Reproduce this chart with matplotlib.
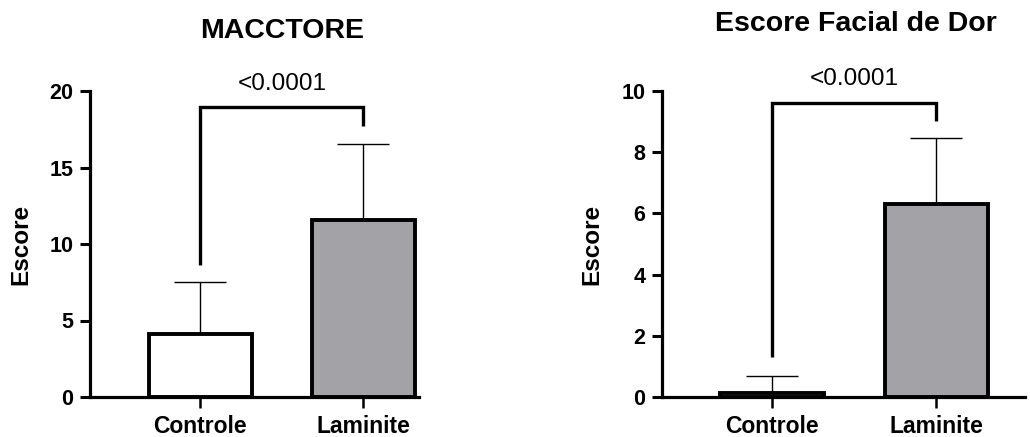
import matplotlib
matplotlib.use("Agg")
import matplotlib.pyplot as plt

plt.rcParams['font.family'] = ['Liberation Sans', 'DejaVu Sans']

groups = ["Controle", "Laminite"]

maccore_mean = [4.1, 11.6]
maccore_sd = [3.4, 4.95]

facial_mean = [0.13, 6.3]
facial_sd = [0.56, 2.16]

p_label = "<0.0001"

bar_fill = ["white", "#a3a2a7"]

fig = plt.figure(figsize=(10.3, 4.37), dpi=100)

ax1 = fig.add_axes([90 / 1030, 40 / 437, 329 / 1030, 306 / 437])
ax2 = fig.add_axes([662 / 1030, 40 / 437, 363 / 1030, 306 / 437])


def draw_panel(ax, means, sds, xlim, ylim, yticks, bracket, text_y):
    x = list(range(len(groups)))
    ax.errorbar(x, means, yerr=[[0] * len(sds), sds], fmt='none',
                ecolor='black', elinewidth=1.0, capsize=19, capthick=1.0,
                zorder=1)
    ax.bar(x, means, width=0.63, color=bar_fill, edgecolor='black',
           linewidth=2.8, zorder=2)
    ax.set_xlim(*xlim)
    ax.set_ylim(*ylim)
    ax.set_yticks(yticks)
    ax.set_xticks(x)
    ax.set_xticklabels(groups)
    for s in ("top", "right"):
        ax.spines[s].set_visible(False)
    for s in ("left", "bottom"):
        ax.spines[s].set_linewidth(2.3)
    ax.tick_params(axis='y', direction='out', length=7, width=2.2,
                   labelsize=15.5, pad=5)
    ax.tick_params(axis='x', direction='out', length=8, width=1.8,
                   labelsize=16.5, pad=5)
    for lab in ax.get_xticklabels() + ax.get_yticklabels():
        lab.set_fontweight('bold')
    ax.set_ylabel("Escore", fontsize=17.5, fontweight='bold')

    top, left_end, right_end = bracket
    ax.plot([0, 0, 1, 1], [left_end, top, top, right_end], color='black',
            linewidth=2.4, solid_joinstyle='miter', solid_capstyle='butt',
            clip_on=False, zorder=3)
    ax.text(0.5, text_y, p_label, ha='center', va='center', fontsize=17.5,
            clip_on=False)


draw_panel(ax1, maccore_mean, maccore_sd, (-0.675, 1.34), (0, 20),
           [0, 5, 10, 15, 20], (18.95, 8.6, 17.7), 20.45)
draw_panel(ax2, facial_mean, facial_sd, (-0.67, 1.54), (0, 10),
           [0, 2, 4, 6, 8, 10], (9.62, 1.3, 9.03), 10.38)

ax1.yaxis.set_label_coords(-58 / 329, 0.5)
ax2.yaxis.set_label_coords(-59 / 363, 0.5)

fig.text(282 / 1030, 1 - 31 / 437, "MACCTORE", ha='center', va='center',
         fontsize=20.5, fontweight='bold')
fig.text(856 / 1030, 1 - 24 / 437, "Escore Facial de Dor", ha='center',
         va='center', fontsize=20.5, fontweight='bold')

fig.savefig("out.png", dpi=100)
